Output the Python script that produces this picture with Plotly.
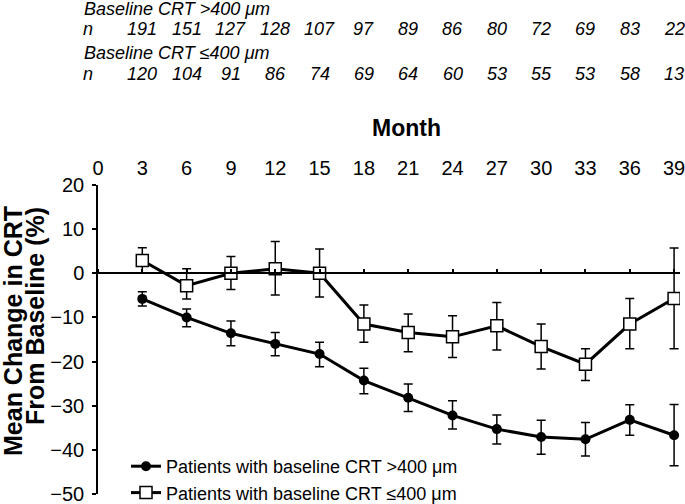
import plotly.graph_objects as go

months = [3, 6, 9, 12, 15, 18, 21, 24, 27, 30, 33, 36, 39]
x_ticks = [0, 3, 6, 9, 12, 15, 18, 21, 24, 27, 30, 33, 36, 39]
y_ticks = [20, 10, 0, -10, -20, -30, -40, -50]

gt400_mean = [-5.8, -10.0, -13.6, -16.0, -18.3, -24.3, -28.2, -32.2, -35.3, -37.1, -37.6, -33.2, -36.7]
gt400_upper = [-4.2, -8.1, -10.8, -13.4, -15.6, -21.5, -25.1, -28.9, -32.1, -33.3, -33.8, -29.8, -29.7]
gt400_lower = [-7.4, -12.1, -16.4, -18.7, -21.2, -27.3, -31.3, -35.3, -38.7, -41.0, -41.4, -36.7, -43.6]

le400_mean = [2.9, -2.8, 0.0, 1.0, 0.0, -11.5, -13.4, -14.4, -11.9, -16.6, -20.6, -11.5, -5.7]
le400_upper = [5.8, 1.0, 3.8, 7.2, 5.5, -7.2, -9.2, -9.6, -6.6, -11.5, -17.1, -5.7, 5.7]
le400_lower = [0.0, -5.8, -3.7, -4.9, -5.4, -15.6, -17.8, -19.1, -17.4, -21.7, -24.3, -17.1, -17.1]

n_gt400 = [191, 151, 127, 128, 107, 97, 89, 86, 80, 72, 69, 83, 22]
n_le400 = [120, 104, 91, 86, 74, 69, 64, 60, 53, 55, 53, 58, 13]

name_gt = "Patients with baseline CRT >400 μm"
name_le = "Patients with baseline CRT ≤400 μm"
hdr_gt = "Baseline CRT >400 μm"
hdr_le = "Baseline CRT ≤400 μm"
ytitle_1 = "Mean Change in CRT"
ytitle_2 = "From Baseline (%)"
xtitle = "Month"

FONT = "Liberation Sans, Arial, sans-serif"


def plus(m, u):
    return [a - b for a, b in zip(u, m)]


def minus(m, l):
    return [b - a for a, b in zip(l, m)]


fig = go.Figure()

# dummy trace so the zero-line axis (x2) is drawn
fig.add_trace(go.Scatter(x=[0], y=[None], xaxis="x2", yaxis="y", showlegend=False,
                         hoverinfo="skip", mode="markers"))

fig.add_trace(go.Scatter(
    x=months, y=gt400_mean, name=name_gt, mode="lines+markers",
    line=dict(color="black", width=3),
    marker=dict(symbol="circle", size=10, color="black"),
    error_y=dict(type="data", symmetric=False,
                 array=plus(gt400_mean, gt400_upper),
                 arrayminus=minus(gt400_mean, gt400_lower),
                 color="black", thickness=1.5, width=4.5),
))
fig.add_trace(go.Scatter(
    x=months, y=le400_mean, name=name_le, mode="lines+markers",
    line=dict(color="black", width=3),
    marker=dict(symbol="square", size=12, color="white",
                line=dict(color="black", width=1.5)),
    error_y=dict(type="data", symmetric=False,
                 array=plus(le400_mean, le400_upper),
                 arrayminus=minus(le400_mean, le400_lower),
                 color="black", thickness=1.5, width=4.5),
))

annotations = []
rows = [(hdr_gt, n_gt400, 8.5, 29), (hdr_le, n_le400, 53.5, 74)]
H = 504
top, bottom = 185, 494
left, right = 98, 680


def py(pix):
    return (bottom - pix) / (bottom - top)


def px(pix):
    return (pix - left) / (right - left)


ital = dict(family=FONT, size=18, color="black", style="italic")
for hdr, ns, yh, yn in rows:
    annotations.append(dict(text=hdr, xref="paper", yref="paper", x=px(82), y=py(yh),
                            xanchor="left", yanchor="middle", showarrow=False, font=ital))
    annotations.append(dict(text="n", xref="paper", yref="paper", x=px(81), y=py(yn),
                            xanchor="left", yanchor="middle", showarrow=False, font=ital))
    for m, n in zip(months, ns):
        annotations.append(dict(text=str(n), xref="x", yref="paper", x=m, y=py(yn),
                                xanchor="center", yanchor="middle", showarrow=False,
                                font=ital))

annotations.append(dict(text="<b>%s</b>" % xtitle, xref="paper", yref="paper", x=px(406),
                        y=py(128), xanchor="center", yanchor="middle", showarrow=False,
                        font=dict(family=FONT, size=23, color="black")))
annotations.append(dict(text="<b>%s</b>" % ytitle_1, xref="paper", yref="paper",
                        x=px(12.5), y=py(331.5), textangle=-90,
                        xanchor="center", yanchor="middle", showarrow=False,
                        font=dict(family=FONT, size=25, color="black")))
annotations.append(dict(text="<b>%s</b>" % ytitle_2, xref="paper", yref="paper",
                        x=px(35), y=py(316), textangle=-90,
                        xanchor="center", yanchor="middle", showarrow=False,
                        font=dict(family=FONT, size=25, color="black")))

fig.update_layout(
    width=685, height=504,
    margin=dict(l=left, r=685 - right, t=top, b=H - bottom, autoexpand=False),
    paper_bgcolor="white", plot_bgcolor="white",
    font=dict(family=FONT, color="black", size=20),
    xaxis=dict(range=[0, 39.4], side="top", tickvals=x_ticks, ticks="",
               showline=False, showgrid=False, zeroline=False, automargin=False,
               ticklabelstandoff=5, ticklabeloverflow="allow",
               tickfont=dict(size=20, color="black")),
    xaxis2=dict(range=[0, 39.4], overlaying="x", side="top", anchor="free",
                position=50 / 70, tickvals=x_ticks, ticks="outside", ticklen=4,
                tickwidth=1.5, tickcolor="black", showticklabels=False,
                showline=True, linecolor="black", linewidth=1.5, showgrid=False,
                zeroline=False, automargin=False),
    yaxis=dict(range=[-50, 20], tickvals=y_ticks, ticks="outside", ticklen=4,
               tickwidth=1.5, tickcolor="black", showline=True, linecolor="black",
               linewidth=1.5, showgrid=False, zeroline=False, automargin=False,
               ticklabelstandoff=4, ticklabeloverflow="allow",
               tickfont=dict(size=20, color="black")),
    legend=dict(x=px(126), y=py(448), xanchor="left", yanchor="top",
                bgcolor="rgba(0,0,0,0)", font=dict(family=FONT, size=18, color="black"),
                tracegroupgap=0, itemsizing="trace", maxheight=1),
    showlegend=True,
    annotations=annotations,
)

fig.write_html("out.html", config={"displayModeBar": False},
               post_script="document.body.style.margin='0';document.body.style.padding='0';")
